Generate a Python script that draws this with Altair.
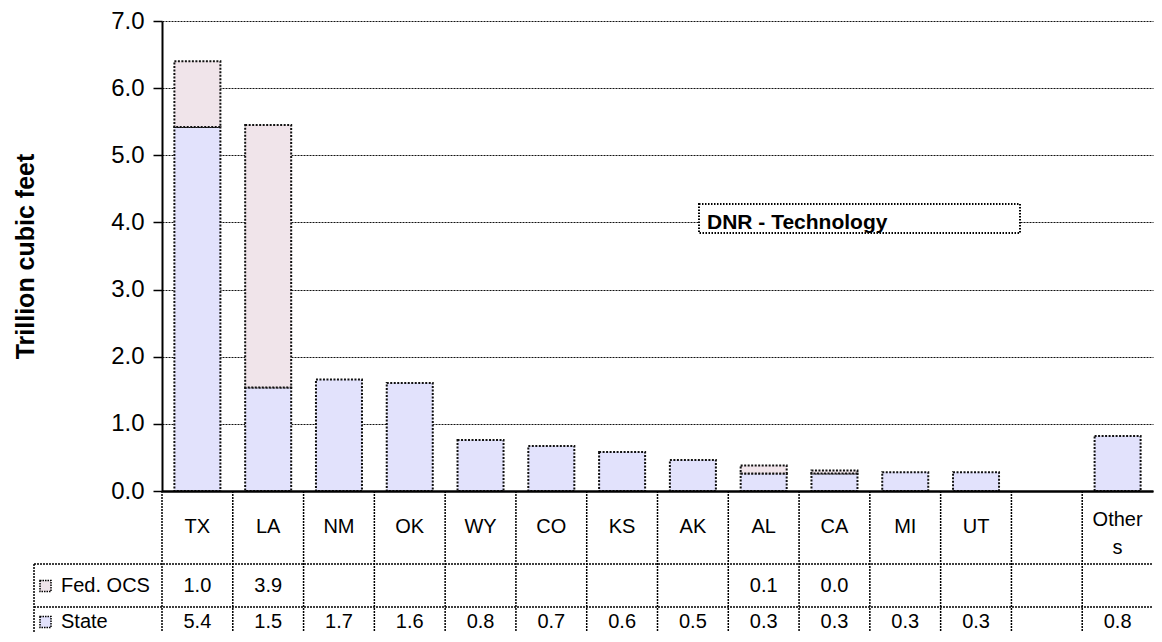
import altair as alt
import pandas as pd

# ---- data ----
cats = ["TX", "LA", "NM", "OK", "WY", "CO", "KS", "AK", "AL", "CA", "MI", "UT", " ", "Others"]
cat_labels = ["TX", "LA", "NM", "OK", "WY", "CO", "KS", "AK", "AL", "CA", "MI", "UT", "", "Other\ns"]
state_vals = [5.42, 1.54, 1.66, 1.61, 0.76, 0.67, 0.58, 0.46, 0.26, 0.26, 0.28, 0.28, None, 0.82]
fed_vals = [0.98, 3.91, None, None, None, None, None, None, 0.12, 0.045, None, None, None, None]
series_names = ["Fed. OCS", "State"]
series_colors = ["#F0E4EA", "#E2E2FC"]
y_ticks = [0, 1, 2, 3, 4, 5, 6, 7]
annotation = "DNR - Technology"

FONT = "Liberation Sans"
W, H = 991, 470
# table layout (pixels below plot top)
Y_CAT, Y_OTHERS, Y_LINE1, Y_FED, Y_LINE2, Y_STATE, Y_BOTTOM = 506, 499, 543, 565, 586, 601, 611
LEG_X = -128

rows = []
for c, s, f in zip(cats, state_vals, fed_vals):
    if s is not None:
        rows.append({"cat": c, "series": "State", "value": s, "ord": 0})
    if f is not None:
        rows.append({"cat": c, "series": "Fed. OCS", "value": f, "ord": 1})
bars_df = pd.DataFrame(rows)
tbl_df = pd.DataFrame({"cat": cats, "lab": cat_labels, "state": state_vals, "fed": fed_vals})
one = pd.DataFrame({"k": [0]})

xscale = alt.Scale(domain=cats, paddingInner=0, paddingOuter=0)
xax = alt.Axis(labels=False, ticks=False, title=None, domain=True, domainColor="black",
               domainWidth=2.5, grid=False, zindex=1)


def X(**kw):
    return alt.X("cat:N", scale=xscale, axis=xax, **kw)


bars = alt.Chart(bars_df).mark_bar(
    width={"band": 0.65}, stroke="#111", strokeWidth=2, strokeDash=[2, 1.5]
).encode(
    x=X(),
    y=alt.Y("value:Q", stack="zero",
            scale=alt.Scale(domain=[0, 7], nice=False, zero=True),
            axis=alt.Axis(values=y_ticks, format=".1f", title="Trillion cubic feet",
                          labelFont=FONT, labelFontSize=24, labelColor="black",
                          labelPadding=9, tickSize=9, tickColor="black", tickWidth=1.5,
                          domainColor="black", domainWidth=2,
                          gridColor="#111", gridDash=[2, 1], gridWidth=1,
                          titleFont=FONT, titleFontSize=25, titleFontWeight="bold",
                          titleColor="black", titlePadding=72)),
    color=alt.Color("series:N", scale=alt.Scale(domain=series_names, range=series_colors),
                    legend=None),
    order=alt.Order("ord:Q"),
)

tbase = alt.Chart(tbl_df)
txt = dict(font=FONT, fontSize=20, color="black", baseline="middle", align="center")

cat_text = tbase.transform_filter("datum.cat != 'Others'").mark_text(**txt).encode(
    x=X(), y=alt.value(Y_CAT), text="lab:N")
oth_text = tbase.transform_filter("datum.cat == 'Others'").mark_text(
    lineBreak="\n", lineHeight=28, **txt).encode(
    x=X(), y=alt.value(Y_OTHERS), text="lab:N")
fed_text = tbase.transform_filter("isValid(datum.fed)").mark_text(**txt).encode(
    x=X(), y=alt.value(Y_FED), text=alt.Text("fed:Q", format=".1f"))
state_text = tbase.transform_filter("isValid(datum.state)").mark_text(**txt).encode(
    x=X(), y=alt.value(Y_STATE), text=alt.Text("state:Q", format=".1f"))

rule_style = dict(color="black", strokeDash=[2, 1], strokeWidth=1.5)
vlines = tbase.mark_rule(**rule_style).encode(
    x=X(bandPosition=0), y=alt.value(H), y2=alt.value(Y_BOTTOM))

layers = [bars, vlines]
for yy in (Y_LINE1, Y_LINE2):
    layers.append(alt.Chart(one).mark_rule(**rule_style).encode(
        x=alt.value(LEG_X), x2=alt.value(W), y=alt.value(yy)))
layers.append(alt.Chart(one).mark_rule(**rule_style).encode(
    x=alt.value(LEG_X), y=alt.value(Y_LINE1), y2=alt.value(Y_BOTTOM)))

for name, col, yy in zip(series_names, series_colors, (Y_FED, Y_STATE)):
    layers.append(alt.Chart(one).mark_rect(stroke="black", strokeWidth=1.5, strokeDash=[1.5, 1]).encode(
        x=alt.value(LEG_X + 6), x2=alt.value(LEG_X + 17),
        y=alt.value(yy - 5.5), y2=alt.value(yy + 5.5), fill=alt.value(col)))
    layers.append(alt.Chart(one).mark_text(font=FONT, fontSize=20, color="black",
                                           baseline="middle", align="left").encode(
        x=alt.value(LEG_X + 27), y=alt.value(yy), text=alt.value(name)))

# annotation box
layers.append(alt.Chart(one).mark_rect(fill="white", stroke="black", strokeWidth=2,
                                       strokeDash=[1.5, 1.5]).encode(
    x=alt.value(537), x2=alt.value(858), y=alt.value(183), y2=alt.value(212)))
layers.append(alt.Chart(one).mark_text(font=FONT, fontSize=21, fontWeight="bold",
                                       color="black", align="left", baseline="alphabetic").encode(
    x=alt.value(545), y=alt.value(208), text=alt.value(annotation)))

layers += [cat_text, oth_text, fed_text, state_text]

chart = alt.layer(*layers).properties(
    width=W, height=H,
    padding={"left": 5, "top": 1, "right": 0, "bottom": 0},
    background="white",
).configure_view(stroke=None)

chart.save("out.html", embed_options={"renderer": "svg", "actions": False})
